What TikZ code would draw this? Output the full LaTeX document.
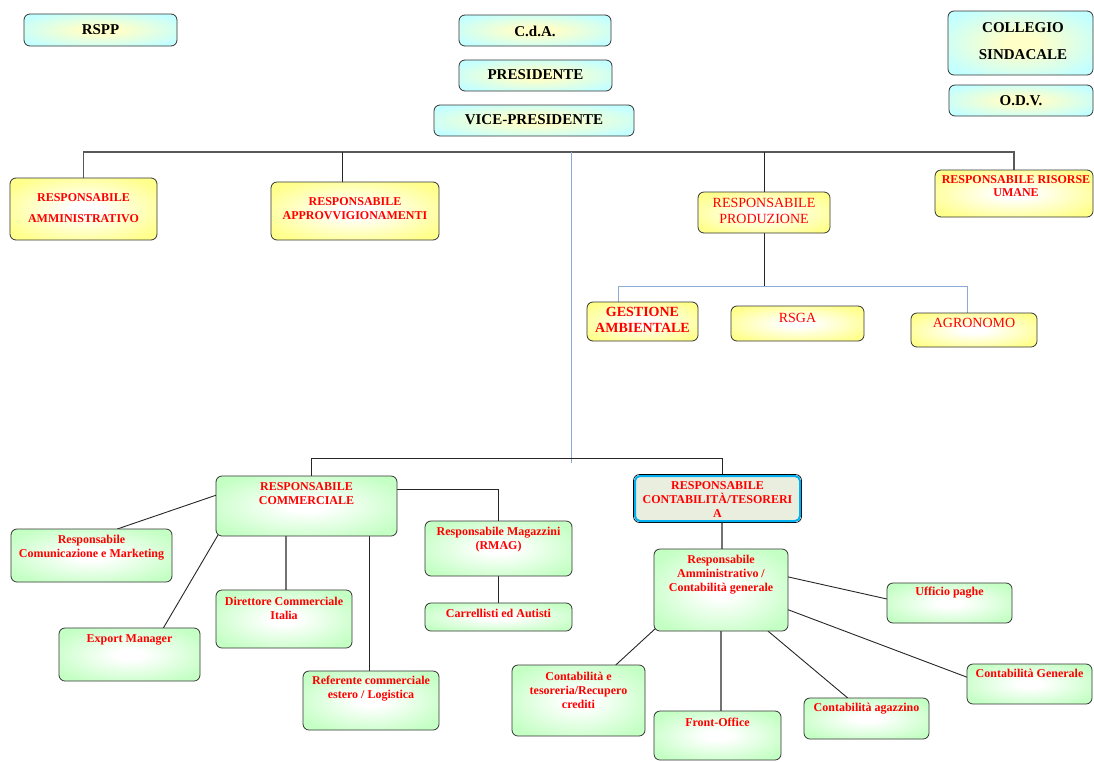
\documentclass[tikz,border=0pt]{standalone}
\usepackage{fontspec}
\setmainfont{Liberation Serif}
\usetikzlibrary{calc,backgrounds}
\definecolor{yout}{RGB}{255,255,140}
\definecolor{gout}{RGB}{196,255,196}
\definecolor{cout}{RGB}{196,255,255}
\definecolor{cin}{RGB}{255,255,200}
\definecolor{bline}{RGB}{140,170,215}
\definecolor{ctfill}{RGB}{234,238,222}
\definecolor{ctedge}{RGB}{0,176,240}
\definecolor{tred}{RGB}{255,0,0}
\pgfdeclareradialshading{yglow}{\pgfpoint{0bp}{0bp}}{color(0bp)=(white);color(5bp)=(white);color(30bp)=(yout);color(50bp)=(yout)}
\pgfdeclareradialshading{gglow}{\pgfpoint{0bp}{0bp}}{color(0bp)=(white);color(5bp)=(white);color(30bp)=(gout);color(50bp)=(gout)}
\pgfdeclareradialshading{cglow}{\pgfpoint{0bp}{0bp}}{color(0bp)=(cin);color(6bp)=(cin);color(30bp)=(cout);color(50bp)=(cout)}
\newcommand\bx[6]{\node[#2, anchor=north west, minimum width={(#5-#3)*1pt}, minimum height={(#6-#4)*1pt}] (#1) at (#3,#4) {};}
\tikzset{
  basebox/.style={draw=black!80, line width=0.8pt, rounded corners=6pt, inner sep=0pt, outer sep=0pt},
  cbox/.style={basebox, shade, shading=cglow},
  ybox/.style={basebox, shade, shading=yglow},
  gbox/.style={basebox, shade, shading=gglow},
  ctbox/.style={draw=ctedge, line width=2pt, rounded corners=5pt, fill=ctfill, inner sep=0pt, outer sep=0pt},
  tk/.style={font=\bfseries\fontsize{15}{27}\selectfont, align=center, inner sep=0pt, text=black},
  tr/.style={font=\bfseries\fontsize{12}{14}\selectfont, align=center, inner sep=0pt, text=tred},
  trn/.style={font=\fontsize{14}{16}\selectfont, align=center, inner sep=0pt, text=tred},
  conn/.style={draw=black!85, line width=0.9pt},
  gconn/.style={draw=black!55, line width=1.6pt},
  busl/.style={draw=black!65, line width=1.3pt},
  bconn/.style={draw=bline, line width=1pt},
}
\begin{document}
\begin{tikzpicture}[x=1pt,y=-1pt]
\useasboundingbox (0,0) rectangle (1094,761);
% top boxes
\bx{rspp}{cbox}{24}{14}{177}{46}
\bx{cda}{cbox}{459}{15}{611}{46}
\bx{pres}{cbox}{459}{60}{612}{91}
\bx{vice}{cbox}{434}{105}{634}{136}
\bx{coll}{cbox}{948}{11}{1093}{75}
\bx{odv}{cbox}{949}{85}{1093}{116}
\node[tk] (rspp-t) at (rspp.center |- 0,30) {RSPP};
\node[tk] (cda-t) at (cda.center |- 0,31) {C.d.A.};
\node[tk] (pres-t) at (pres.center |- 0,75) {PRESIDENTE};
\node[tk] (vice-t) at (vice.center |- 0,120) {VICE-PRESIDENTE};
\node[tk] (coll-t) at (1023,41.5) {COLLEGIO\\SINDACALE};
\node[tk] (odv-t) at (odv.center |- 0,101) {O.D.V.};
% yellow boxes
\bx{ramm}{ybox}{10}{178}{157}{240}
\bx{rapp}{ybox}{271}{182}{439}{240}
\bx{rprod}{ybox}{698}{192}{830}{233}
\bx{rru}{ybox}{935}{170}{1093}{217}
\bx{gest}{ybox}{587}{302}{698}{341}
\bx{rsga}{ybox}{731}{306}{864}{341}
\bx{agro}{ybox}{911}{313}{1037}{347}
\node[tr, font=\bfseries\fontsize{12}{21}\selectfont] (ramm-t) at (ramm.center |- 0,208.5) {RESPONSABILE\\AMMINISTRATIVO};
\node[tr] (rapp-t) at (rapp.center |- 0,209) {RESPONSABILE\\APPROVVIGIONAMENTI};
\node[trn] (rprod-t) at (rprod.center |- 0,211) {RESPONSABILE\\PRODUZIONE};
\node[tr, font=\bfseries\fontsize{12}{13}\selectfont] (rru-t) at (1016,186.5) {RESPONSABILE RISORSE\\UMANE};
\node[tr, font=\bfseries\fontsize{14}{16}\selectfont] (gest-t) at (gest.center |- 0,320) {GESTIONE\\AMBIENTALE};
\node[trn] (rsga-t) at (rsga.center |- 0,317.5) {RSGA};
\node[trn] (agro-t) at (agro.center |- 0,323) {AGRONOMO};
% bottom left group
\bx{rcom}{gbox}{216}{476}{397}{536}
\bx{rcm}{gbox}{11}{529}{172}{582}
\bx{exp}{gbox}{59}{628}{200}{681}
\bx{dci}{gbox}{216}{590}{352}{648}
\bx{ref}{gbox}{303}{671}{439}{730}
\bx{rmag}{gbox}{425}{521}{572}{576}
\bx{carr}{gbox}{425}{603}{572}{631}
\node[tr] (rcom-t) at (rcom.center |- 0,494) {RESPONSABILE\\COMMERCIALE};
\node[tr] (rcm-t) at (rcm.center |- 0,547.5) {Responsabile\\Comunicazione e Marketing};
\node[tr] (exp-t) at (exp.center |- 0,639.5) {Export Manager};
\node[tr] (dci-t) at (dci.center |- 0,608.5) {Direttore Commerciale\\Italia};
\node[tr] (ref-t) at (ref.center |- 0,688.5) {Referente commerciale\\estero / Logistica};
\node[tr] (rmag-t) at (rmag.center |- 0,539.5) {Responsabile Magazzini\\(RMAG)};
\node[tr] (carr-t) at (carr.center |- 0,613) {Carrellisti ed Autisti};
% bottom right group
\draw[black, line width=0.7pt, rounded corners=6pt] (633.5,474.5) rectangle (801.5,522.5);
\bx{rcont}{ctbox}{635}{476}{800}{521}
\bx{ram}{gbox}{654}{549}{788}{631}
\bx{uff}{gbox}{887}{583}{1012}{623}
\bx{cgen}{gbox}{967}{664}{1092}{704}
\bx{cag}{gbox}{804}{698}{929}{739}
\bx{fo}{gbox}{654}{711}{781}{760}
\bx{cte}{gbox}{512}{665}{645}{736}
\node[tr] (rcont-t) at (rcont.center |- 0,500) {RESPONSABILE\\CONTABILITÀ/TESORERI\\A};
\node[tr] (ram-t) at (ram.center |- 0,575) {Responsabile\\Amministrativo /\\Contabilità generale};
\node[tr] (uff-t) at (uff.center |- 0,592.5) {Ufficio paghe};
\node[tr] (cgen-t) at (cgen.center |- 0,673.5) {Contabilità Generale};
\node[tr] (cag-t) at (cag.center |- 0,708.5) {Contabilità agazzino};
\node[tr] (fo-t) at (fo.center |- 0,722.5) {Front-Office};
\node[tr] (cte-t) at (cte.center |- 0,690) {Contabilità e\\tesoreria/Recupero\\crediti};
% free coordinates
\coordinate (busT) at (0,152);
\coordinate (bT) at (571,152);
\coordinate (bB) at (571,463);
\coordinate (busP) at (0,286);
\coordinate (busB) at (0,458);
\begin{pgfonlayer}{background}
  % top bus
  \draw[busl] (ramm.north) -- (ramm.north |- busT) -| (rru.north);
  \coordinate (rappT) at ($(rapp.north west)!.425!(rapp.north east)$);
  \draw[conn] (rappT |- busT) -- (rappT);
  \draw[conn] (rprod.north |- busT) -- (rprod.north);
  \draw[bconn] (bT) -- (bB);
  % production
  \coordinate (gestT) at ($(gest.north west)!.28!(gest.north east)$);
  \coordinate (agroT) at ($(agro.north west)!.45!(agro.north east)$);
  \draw[conn] (rprod.south) -- (rprod.south |- busP);
  \draw[bconn] (gestT) -- (gestT |- busP) -| (agroT);
  % bottom bus
  \coordinate (rcomT) at ($(rcom.north west)!.53!(rcom.north east)$);
  \coordinate (rcontT) at ($(rcont.north west)!.527!(rcont.north east)$);
  \draw[conn] (rcomT) -- (rcomT |- busB) -| (rcontT);
  % commercial
  \draw[conn] ($(rcom.north west)!.32!(rcom.south west)$) -- ($(rcm.north west)!.66!(rcm.north east)$);
  \draw[conn] ($(rcom.south west)+(2,-1)$) -- ($(exp.north west)!.74!(exp.north east)$);
  \coordinate (rcomD) at ($(rcom.south west)!.387!(rcom.south east)$);
  \draw[gconn] (rcomD) -- (rcomD |- dci.north);
  \coordinate (rcomR) at ($(rcom.south west)!.845!(rcom.south east)$);
  \draw[conn] (rcomR) -- (rcomR |- ref.north);
  \draw[conn] ($(rcom.north east)!.23!(rcom.south east)$) -| (rmag.north);
  \draw[conn] (rmag.south) -- (carr.north);
  % accounting
  \coordinate (rcontB) at ($(rcont.south west)!.527!(rcont.south east)$);
  \draw[gconn] (rcontB) -- (rcontB |- ram.north);
  \draw[gconn] (ram.south) -- (ram.south |- fo.north);
  \draw[conn] ($(ram.north east)!.34!(ram.south east)$) -- ($(uff.north west)!.4!(uff.south west)$);
  \draw[conn] ($(ram.north east)!.74!(ram.south east)$) -- ($(cgen.north west)!.33!(cgen.south west)$);
  \draw[conn] ($(ram.south west)!.85!(ram.south east)$) -- ($(cag.north west)!.35!(cag.north east)$);
  \draw[conn] ($(ram.south west)+(2,-3)$) -- ($(cte.north west)!.78!(cte.north east)$);
\end{pgfonlayer}
\end{tikzpicture}
\end{document}
